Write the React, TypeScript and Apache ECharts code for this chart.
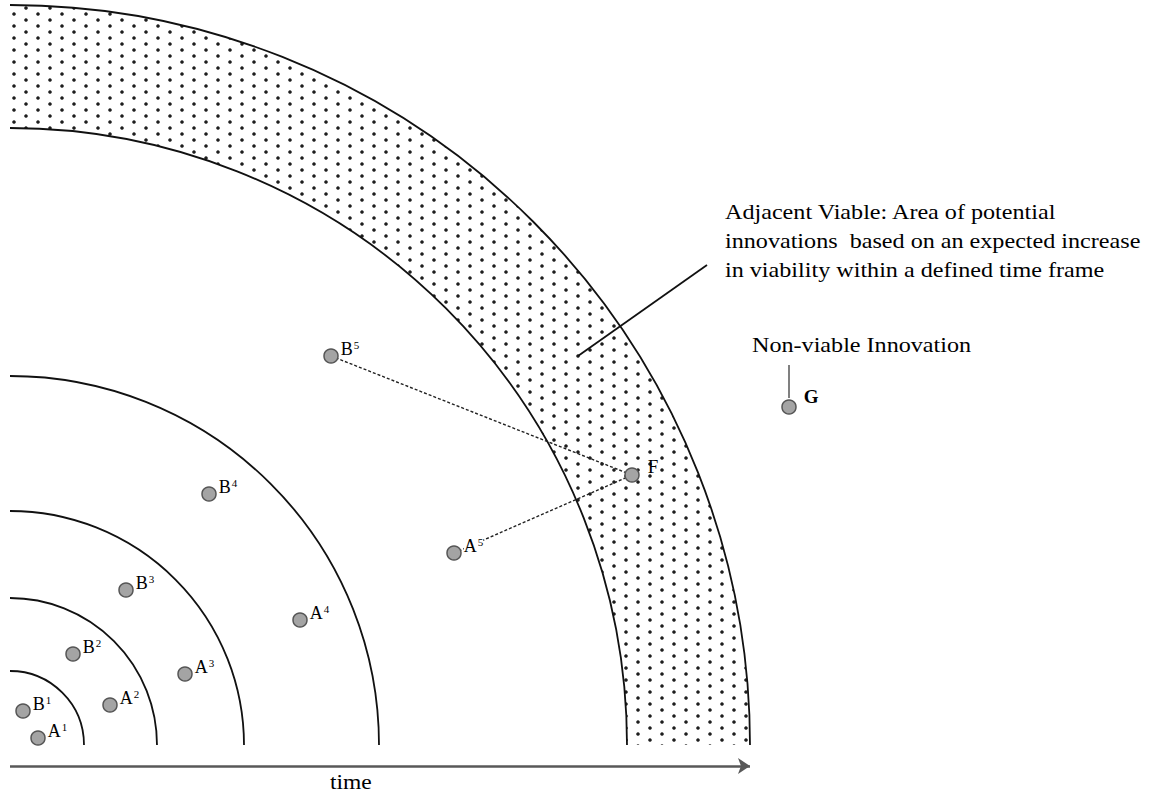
import React, { useEffect, useRef } from 'react';
import * as echarts from 'echarts';

const W = 1154;
const H = 796;

// ring radii (data units, 1 unit = 1 px), centre at origin
const ringRadii = [74, 147, 234, 369, 617, 740];
const bandRadii = [617, 740];

// innovations
const pointNames = ['A', 'B', 'A', 'B', 'A', 'B', 'A', 'B', 'A', 'B', 'F', 'G'];
const pointSups = ['1', '1', '2', '2', '3', '3', '4', '4', '5', '5', '', ''];
const pointX = [28, 13, 100, 63, 175, 116, 290, 199, 444, 321, 622, 779];
const pointY = [7, 34, 40, 91, 71, 155, 125, 251, 192, 389, 270, 338];

// dashed links between innovations
const linkFrom = ['B5', 'A5'];
const linkTo = ['F', 'F'];

// time axis
const timeAxisY = -21;
const timeAxisEnd = 740;

// callout lines
const calloutStart = [568, 389];
const calloutEnd = [697, 480];
const gStemStart = [779, 380];
const gStemEnd = [779, 347];

// annotation texts
const adjacentLines = [
  'Adjacent Viable: Area of potential',
  'innovations  based on an expected increase',
  'in viability within a defined time frame',
];
const nonViableText = 'Non-viable Innovation';
const timeText = 'time';

const SERIF = "'Liberation Serif', 'Times New Roman', serif";

function pointByKey(key: string): number[] {
  for (let i = 0; i < pointNames.length; i++) {
    if (pointNames[i] + pointSups[i] === key) return [pointX[i], pointY[i]];
  }
  return [0, 0];
}

export default function App() {
  const ref = useRef<HTMLDivElement>(null);

  useEffect(() => {
    document.body.style.margin = '0';
    document.body.style.overflow = 'hidden';
    const chart = echarts.init(ref.current!, null, { renderer: 'svg' });

    const scatterData = pointNames.map((n, i) => {
      const sup = pointSups[i];
      const isAB = sup !== '';
      return {
        value: [pointX[i], pointY[i]],
        name: n + sup,
        label: {
          formatter: isAB ? `{m|${n}}{s|${sup}}` : `{m|${n}}`,
          offset: isAB ? [0, -7] : n === 'F' ? [6, -9] : [5, -11],
          backgroundColor: n + sup === 'A5' ? '#ffffff' : 'transparent',
          rich: {
            m: {
              fontFamily: SERIF,
              fontSize: isAB ? 18 : 19,
              fontWeight: n === 'G' ? 'bold' : 'normal',
              color: '#000',
              lineHeight: 19,
            },
            s: {
              fontFamily: SERIF,
              fontSize: 11,
              color: '#000',
              verticalAlign: 'top',
              lineHeight: 11,
              padding: [0, 0, 0, 1],
            },
          },
        },
      };
    });

    const baseSeries: any[] = [
      {
        id: 'rings',
        type: 'custom',
        coordinateSystem: 'cartesian2d',
        data: ringRadii.map((r) => [r, 0]),
        encode: { x: 0, y: 1 },
        silent: true,
        z: 3,
        renderItem: (params: any, api: any) => {
          const r = api.value(0);
          const c = api.coord([0, 0]);
          const rp = api.size([r, 0])[0];
          return {
            type: 'arc',
            shape: { cx: c[0], cy: c[1], r: rp, startAngle: -Math.PI / 2, endAngle: 0, clockwise: true },
            style: { stroke: '#111', lineWidth: 1.8, fill: null },
          };
        },
      },
      {
        id: 'links',
        type: 'lines',
        coordinateSystem: 'cartesian2d',
        silent: true,
        z: 4,
        lineStyle: { color: '#222', width: 1.4, type: [3, 2], opacity: 1 },
        data: linkFrom.map((f, i) => ({ coords: [pointByKey(f), pointByKey(linkTo[i])] })),
      },
      {
        id: 'callouts',
        type: 'lines',
        coordinateSystem: 'cartesian2d',
        silent: true,
        z: 4,
        data: [
          { coords: [calloutStart, calloutEnd], lineStyle: { color: '#111', width: 1.8 } },
          { coords: [gStemStart, gStemEnd], lineStyle: { color: '#808080', width: 2 } },
        ],
        lineStyle: { opacity: 1 },
      },
      {
        id: 'timeAxis',
        type: 'lines',
        coordinateSystem: 'cartesian2d',
        silent: true,
        z: 4,
        symbol: ['none', 'arrow'],
        symbolSize: 12,
        lineStyle: { color: '#585858', width: 2.5, opacity: 1 },
        data: [{ coords: [[0, timeAxisY], [timeAxisEnd, timeAxisY]] }],
      },
      {
        id: 'points',
        type: 'scatter',
        coordinateSystem: 'cartesian2d',
        symbol: 'circle',
        symbolSize: 14,
        z: 6,
        silent: true,
        itemStyle: { color: '#a4a4a4', borderColor: '#555', borderWidth: 1.5, opacity: 1 },
        label: { show: true, position: 'right', distance: 2 },
        data: scatterData,
      },
    ];

    const textStyle = (text: string) => ({
      text,
      fontFamily: SERIF,
      fontSize: 21,
      fill: '#000',
      align: 'left',
      verticalAlign: 'middle',
    });

    const graphics: any[] = [
      ...adjacentLines.map((t, i) => ({
        type: 'text',
        x: 725,
        y: 212 + i * 29,
        scaleX: 1.15,
        silent: true,
        style: textStyle(t),
      })),
      { type: 'text', x: 752, y: 345, scaleX: 1.15, silent: true, style: textStyle(nonViableText) },
      { type: 'text', x: 330, y: 782, scaleX: 1.12, silent: true, style: textStyle(timeText) },
    ];

    const option: any = {
      animation: false,
      backgroundColor: '#ffffff',
      grid: { left: 0, top: 0, width: W, height: H, containLabel: false },
      xAxis: { type: 'value', min: -10, max: W - 10, show: false },
      yAxis: { type: 'value', min: 745 - H, max: 745, show: false },
      series: baseSeries,
      graphic: graphics,
    };
    chart.setOption(option);

    const c = chart.convertToPixel({ gridIndex: 0 }, [0, 0]) as number[];
    const rIn = (chart.convertToPixel({ gridIndex: 0 }, [bandRadii[0], 0]) as number[])[0] - c[0];
    const rOut = (chart.convertToPixel({ gridIndex: 0 }, [bandRadii[1], 0]) as number[])[0] - c[0];

    chart.setOption({
      series: [
        ...baseSeries,
        {
          id: 'band',
          type: 'pie',
          center: [c[0], c[1]],
          radius: [rIn, rOut],
          startAngle: 90,
          clockwise: true,
          silent: true,
          z: 1,
          label: { show: false },
          labelLine: { show: false },
          emphasis: { disabled: true },
          itemStyle: { borderWidth: 0 },
          data: [
            {
              value: 90,
              itemStyle: {
                color: '#ffffff',
                decal: {
                  symbol: 'circle',
                  symbolSize: 0.9,
                  symbolKeepAspect: true,
                  color: '#1e1e1e',
                  dashArrayX: [[4, 20], [0, 12, 4, 8]],
                  dashArrayY: [4, 2],
                  rotation: 0,
                },
              },
            },
            { value: 270, itemStyle: { color: 'rgba(0,0,0,0)' } },
          ],
        },
      ],
    });

    return () => chart.dispose();
  }, []);

  return <div ref={ref} style={{ width: W, height: H }} />;
}
